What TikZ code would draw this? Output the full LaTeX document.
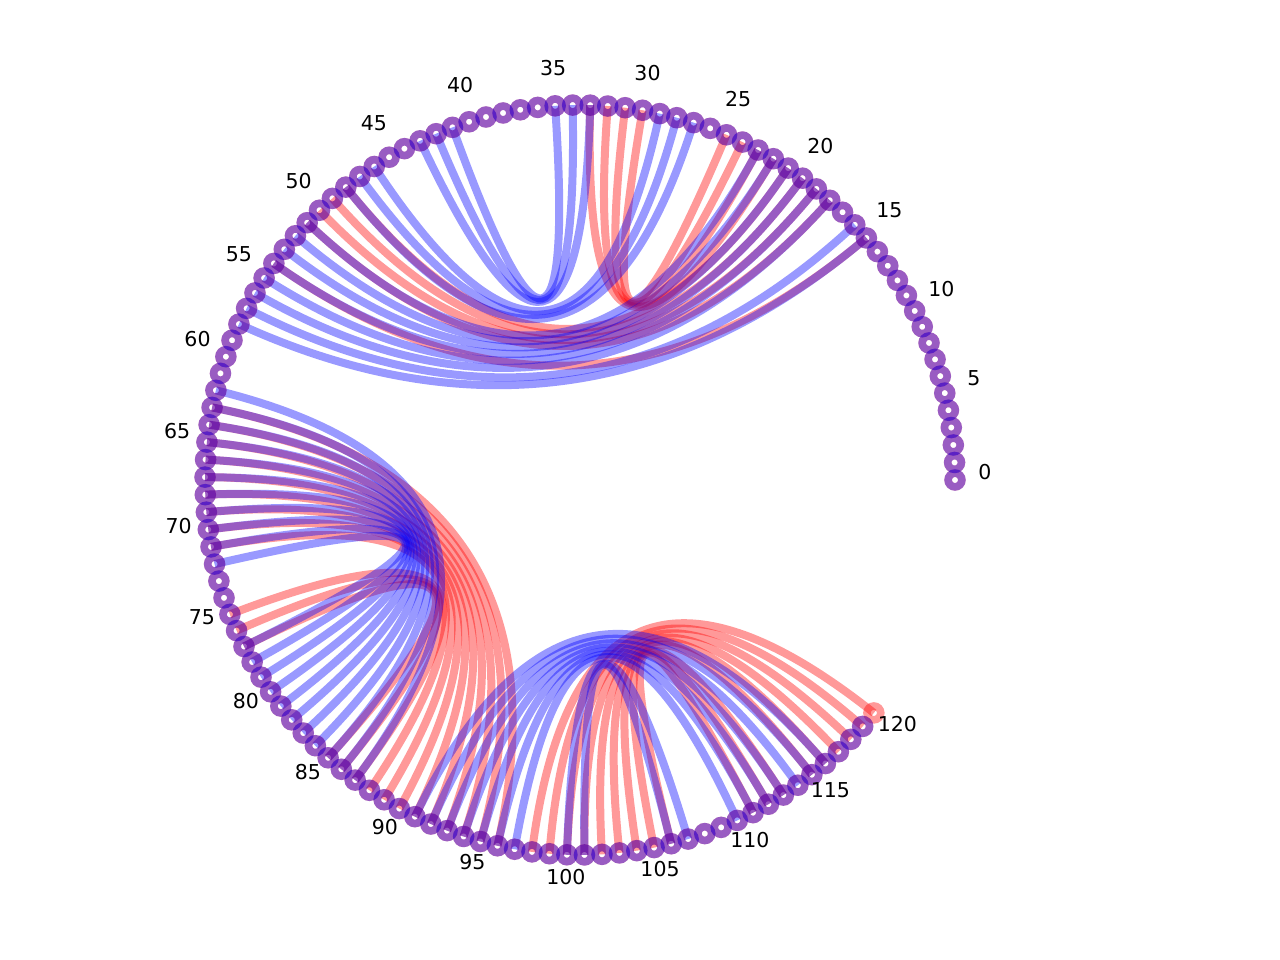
\documentclass[tikz,border=0pt]{standalone}
\usepackage{fontspec}
\setmainfont{DejaVu Sans}
\usetikzlibrary{calc}
\begin{document}
\begin{tikzpicture}[x=1pt,y=1pt,
  redE/.style={draw=red, draw opacity=0.4, line width=8pt},
  blueE/.style={draw=blue, draw opacity=0.4, line width=8pt},
  redN/.style={draw=red, draw opacity=0.4, line width=7.6pt},
  blueN/.style={draw=blue, draw opacity=0.4, line width=7.6pt},
  lab/.style={font=\fontsize{20.5}{24}\selectfont, text=black, inner sep=0pt}]
\useasboundingbox (-580,-480) rectangle (700,480);
\coordinate (C) at (0,0);
\foreach \i in {0,...,120} \coordinate (n\i) at ({\i*2.68}:375);
% red edges
\foreach \a/\b in {30/25,31/24,32/23,33/22,21/48,20/49,19/50,18/51,15/54,
  77/85,76/86,75/87,71/88,70/89,69/90,68/91,67/92,66/93,65/94,64/95,63/96,
  98/120,99/119,100/118,101/117,102/116,103/115,104/113,105/112,106/111}
  \draw[redE] (n\a) .. controls ($(n\a)!0.6667!(C)$) and ($(n\b)!0.6667!(C)$) .. (n\b);
% blue edges
\foreach \a/\b in {33/43,34/42,35/41,29/46,28/47,27/48,23/51,22/52,21/53,20/54,19/55,18/56,16/57,15/58,
  72/77,71/78,70/79,69/80,68/81,67/82,66/83,65/84,64/85,63/86,62/87,
  101/106,100/107,97/110,96/111,95/112,94/113,93/114,92/115,91/116}
  \draw[blueE] (n\a) .. controls ($(n\a)!0.6667!(C)$) and ($(n\b)!0.6667!(C)$) .. (n\b);
% nodes
\foreach \i in {0,...,120} \draw[redN] (n\i) circle (6.9pt);
\foreach \i in {0,...,119} \draw[blueN] (n\i) circle (6.9pt);
% labels
\foreach \i in {0,5,...,120} \node[lab] (l\i) at ($({\i*2.68}:405)+(0,8)$) {\i};
\end{tikzpicture}
\end{document}
